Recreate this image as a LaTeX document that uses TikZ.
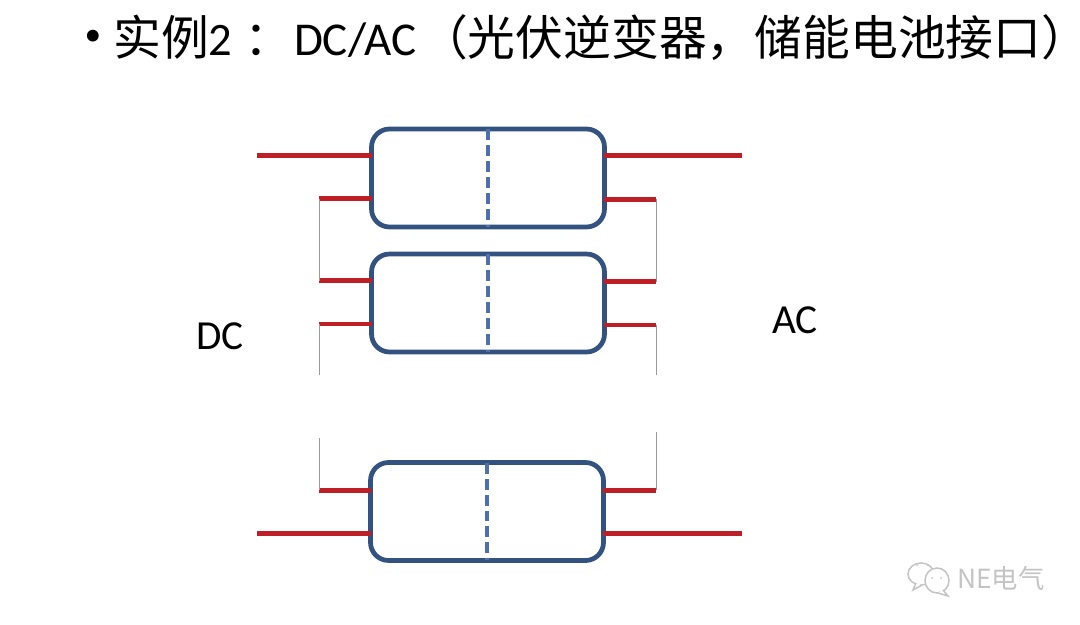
\documentclass[tikz,border=0pt]{standalone}
\usepackage{fontspec}
\setmainfont{Carlito}
\newfontfamily\cjkfont{Noto Sans CJK SC}
\usepackage{tikz}
\usetikzlibrary{calc}
\usetikzlibrary{positioning}

\definecolor{boxblue}{HTML}{34527F}
\definecolor{dashblue}{HTML}{4F6FAE}
\definecolor{wirered}{HTML}{BE1E26}
\definecolor{linkgray}{HTML}{9A9A9A}
\definecolor{markgray}{HTML}{C4C4C4}

\tikzset{
    conv/.style={draw=boxblue, line width=0.095cm, rounded corners=0.36cm, minimum width=4.66cm, minimum height=1.96cm, outer sep=0pt, inner sep=0pt},
    divider/.style={draw=dashblue, line width=0.09cm, dash pattern=on 0.22cm off 0.1cm},
    wire/.style={draw=wirered, line width=0.1cm},
    link/.style={draw=linkgray, line width=0.02cm},
    sidelabel/.style={font=\fontsize{23.5}{23.5}\selectfont, inner sep=0pt},
    wmark/.style={draw=markgray, line width=0.03cm, fill=white}
}

\begin{document}
\begin{tikzpicture}[x=0.02cm, y=-0.02cm]
    \useasboundingbox (0, 0) rectangle (1080, 625);

    \node [inner sep=0pt, font=\fontsize{19}{19}\selectfont] (bullet) at (93, 38) {•};
    \node [anchor=west, inner sep=0pt, font=\fontsize{27.2}{27.2}\selectfont\cjkfont] (title) at (113, 37.5) {实例{\fontspec{Carlito}\fontsize{26.5}{26.5}\selectfont 2}\hspace{6.8pt}：\hspace{1pt}{\fontspec{Carlito}\fontsize{26.8}{26.8}\selectfont DC/AC}\hspace{2pt}（光伏逆变器，储能电池接口）\hspace{-16pt}};

    \node [conv] (conv1) at (488, 178) {};
    \node [conv] (conv2) at (488, 303) {};
    \node [conv] (conv3) at (487, 511.5) {};

    \draw [divider] (conv1.north) -- (conv1.south);
    \draw [divider] (conv2.north) -- (conv2.south);
    \draw [divider] (conv3.north) -- (conv3.south);

    % left side
    \coordinate (L1a) at (257, 156);
    \coordinate (L1b) at (319, 199);
    \coordinate (L2a) at (319, 281);
    \coordinate (L2b) at (319, 324);
    \coordinate (L2c) at (319, 375);
    \coordinate (L3c) at (319, 438);
    \coordinate (L3a) at (319, 490);
    \coordinate (L3b) at (257, 533);

    \draw [wire] (L1a) -- (L1a -| conv1.west);
    \draw [wire] (L1b) -- (L1b -| conv1.west);
    \draw [wire] (L2a) -- (L2a -| conv2.west);
    \draw [wire] (L2b) -- (L2b -| conv2.west);
    \draw [wire] (L3a) -- (L3a -| conv3.west);
    \draw [wire] (L3b) -- (L3b -| conv3.west);

    \draw [link] (L1b) -- (L2a);
    \draw [link] (L2b) -- (L2c);
    \draw [link] (L3c) -- (L3a);

    % right side
    \coordinate (R1a) at (742, 156);
    \coordinate (R1b) at (656, 199.5);
    \coordinate (R2a) at (656, 282);
    \coordinate (R2b) at (656, 325);
    \coordinate (R2c) at (656, 375);
    \coordinate (R3c) at (656, 432);
    \coordinate (R3a) at (656, 490);
    \coordinate (R3b) at (742, 533.5);

    \draw [wire] (conv1.east |- R1a) -- (R1a);
    \draw [wire] (conv1.east |- R1b) -- (R1b);
    \draw [wire] (conv2.east |- R2a) -- (R2a);
    \draw [wire] (conv2.east |- R2b) -- (R2b);
    \draw [wire] (conv3.east |- R3a) -- (R3a);
    \draw [wire] (conv3.east |- R3b) -- (R3b);

    \draw [link] (R1b) -- (R2a);
    \draw [link] (R2b) -- (R2c);
    \draw [link] (R3c) -- (R3a);

    \node [sidelabel] (dc) at (220, 336) {DC};
    \node [sidelabel] (ac) at (795, 320) {AC};

    % watermark
    \draw [wmark] (921, 574) ellipse (13 and 11);
    \draw [wmark] (916, 583) -- (913, 590) -- (922, 585);
    \draw [wmark] (937, 580.5) ellipse (12 and 12.5);
    \draw [wmark] (943, 590) -- (948, 596) -- (938, 593);
    \fill [markgray] (917, 565) circle (1);
    \fill [markgray] (928, 565) circle (1);
    \fill [markgray] (932, 578) circle (1);
    \fill [markgray] (941, 578) circle (1);
    \node [anchor=west, inner sep=0pt, text=markgray, font=\fontsize{15}{15}\selectfont\cjkfont] (wm) at (957, 578) {NE电气};
\end{tikzpicture}
\end{document}
